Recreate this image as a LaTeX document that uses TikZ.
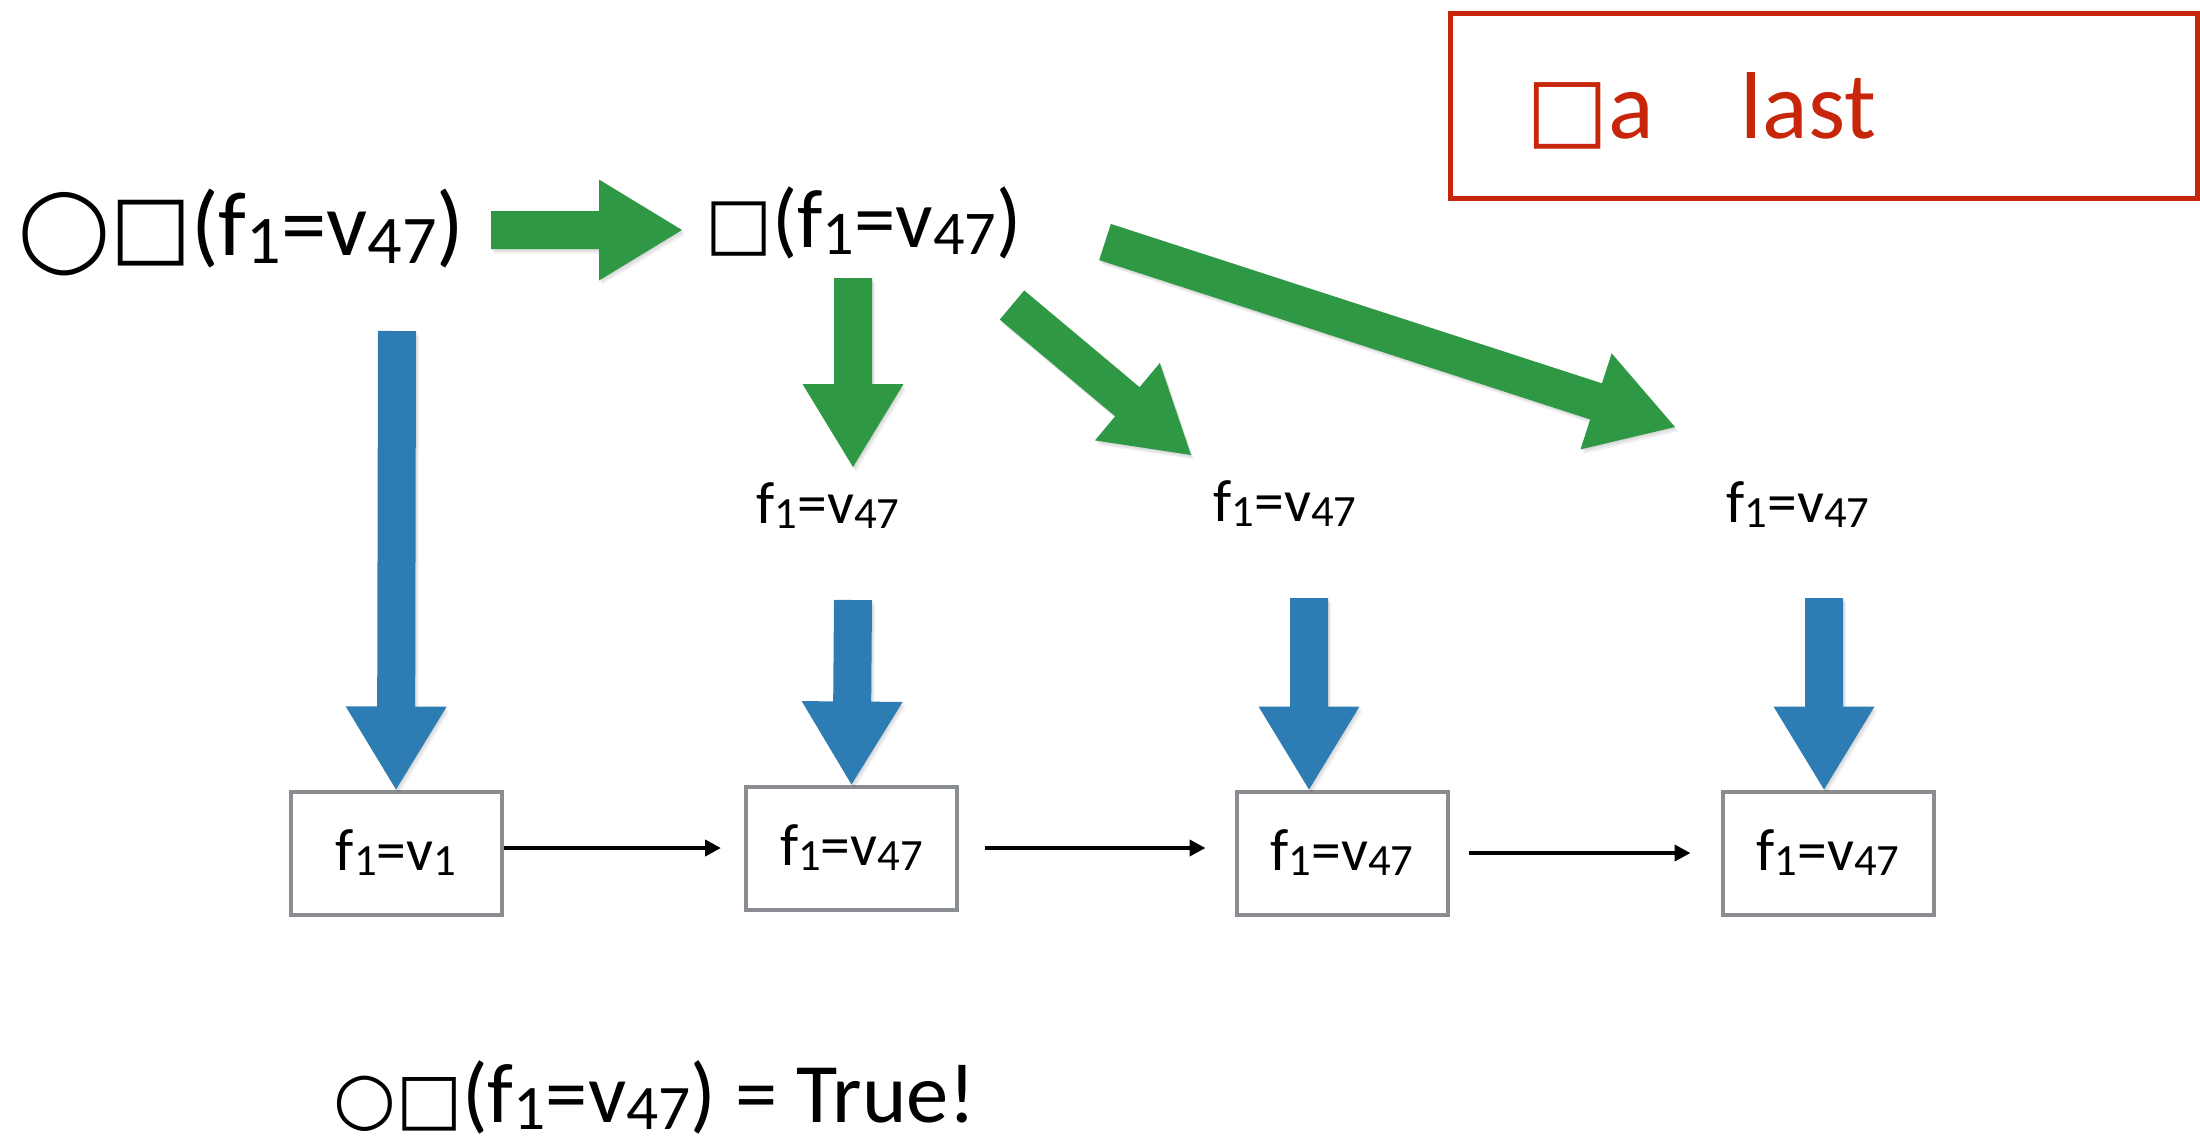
\documentclass[tikz,border=0pt]{standalone}
\usepackage{fontspec}
\setmainfont{Carlito}
\newfontfamily\symf{DejaVu Sans}
\newfontfamily\symbf{DejaVu Sans Bold}
\usepackage{graphicx}
\usetikzlibrary{calc,arrows.meta}
\definecolor{agreen}{RGB}{47,152,68}
\definecolor{ablue}{RGB}{45,125,180}
\definecolor{bgray}{RGB}{137,140,145}
\definecolor{ared}{RGB}{200,38,10}
\makeatletter
\newcommand\sbs[1]{\raisebox{-0.09em}{\fontsize{\fpeval{0.75*\f@size}}{0}\selectfont #1}}
\makeatother
\newcommand\sg[2]{{\symf\fontsize{#1}{#1}\selectfont #2}}
\newcommand\sq[1]{{\symbf\fontsize{#1}{#1}\selectfont □}}
\newcommand\arrowpath[2]{($(#1)!9.5pt!90:(#2)$) -- ($(bah)!9.5pt!90:(#2)$) -- ($(bah)!25.25pt!90:(#2)$) -- (#2) -- ($(bah)!25.25pt!-90:(#2)$) -- ($(bah)!9.5pt!-90:(#2)$) -- ($(#1)!9.5pt!-90:(#2)$) -- cycle}
\newcommand\blockarrow[3]{%
  \coordinate (bah) at ($(#3)!41.5pt!(#2)$);
  \foreach \s in {1,2,3}{\fill[black, opacity=0.05, transform canvas={shift={(\s,1.5*\s)}}] \arrowpath{#2}{#3};}
  \fill[#1] \arrowpath{#2}{#3};}
\tikzset{
  bigtext/.style={inner sep=0pt, font=\fontsize{41}{48}\selectfont},
  smalltext/.style={inner sep=0pt, font=\fontsize{29.8}{34}\selectfont},
  statebox/.style={draw=bgray, line width=2pt, minimum width=105.5pt, minimum height=61.5pt, inner sep=0pt, text height=17pt, text depth=0pt, font=\fontsize{29.8}{34}\selectfont},
  conn/.style={line width=2.4pt, -{Triangle[length=8pt,width=8pt]}},
}
\begin{document}
\begin{tikzpicture}[x=0.5pt,y=-0.5pt]
\useasboundingbox (0,0) rectangle (2200,1142);
% texts
\node[bigtext, anchor=base west] (t1) at (18,255) {\sg{41}{◯}\sq{43}{\fontsize{45.5}{52}\selectfont(f\sbs{1}=v\sbs{47})}};
\node[bigtext, anchor=base west] (t2) at (705,247) {\sq{35.5}{\fontsize{41.5}{48}\selectfont(f\sbs{1}=v\sbs{47})}};
\node[smalltext, anchor=base] (l1) at (828,523) {f\sbs{1}=v\sbs{47}};
\node[smalltext, anchor=base] (l2) at (1285,521) {f\sbs{1}=v\sbs{47}};
\node[smalltext, anchor=base] (l3) at (1798,522) {f\sbs{1}=v\sbs{47}};
% boxes
\node[statebox] (b1) at (396,853) {f\sbs{1}=v\sbs{1}};
\node[statebox] (b2) at (851.5,848) {f\sbs{1}=v\sbs{47}};
\node[statebox] (b3) at (1342,853) {f\sbs{1}=v\sbs{47}};
\node[statebox] (b4) at (1828,853) {f\sbs{1}=v\sbs{47}};
% red box
\node[draw=ared, line width=2.5pt, text=ared, minimum width=373.5pt, minimum height=92.25pt,
      text width=296.9pt, align=left, inner xsep=38.3pt, inner ysep=0pt, text height=33pt, text depth=0pt,
      font=\fontsize{47.5}{52}\selectfont] (rb) at (1823.5,105.75) {\sq{43.5}a\hspace{0.91em}last};
% bottom text
\node[bigtext, anchor=base west, font=\fontsize{42.3}{50}\selectfont] (bt) at (333,1122) {\sg{36}{○}\sq{35}(f\sbs{1}=v\sbs{47}) = True!};
% green block arrows
\coordinate (g1s) at (491,230); \coordinate (g1e) at (682,230);
\coordinate (g2s) at (853,278); \coordinate (g2e) at (853,467);
\coordinate (g3s) at (1012,305); \coordinate (g3e) at (1191,455);
\coordinate (g4s) at (1105,242); \coordinate (g4e) at (1675,427);
\blockarrow{agreen}{g1s}{g1e}
\blockarrow{agreen}{g2s}{g2e}
\blockarrow{agreen}{g3s}{g3e}
\blockarrow{agreen}{g4s}{g4e}
% blue block arrows
\coordinate (u1s) at (397,331); \coordinate (u2s) at (853,600);
\coordinate (u3s) at (1309,598); \coordinate (u4s) at (1824,598);
\blockarrow{ablue}{u1s}{b1.north}
\blockarrow{ablue}{u2s}{b2.north}
\blockarrow{ablue}{u3s}{b3.north -| u3s}
\blockarrow{ablue}{u4s}{b4.north -| u4s}
% black arrows
\draw[conn, shorten >=11.5pt] (b1.east |- b2.west) -- (b2.west);
\draw[conn, shorten <=13pt, shorten >=14.5pt] (b2.east) -- (b2.east -| b3.west);
\draw[conn, shorten <=9.5pt, shorten >=15pt] (b3.east) -- (b4.west);
\end{tikzpicture}
\end{document}
